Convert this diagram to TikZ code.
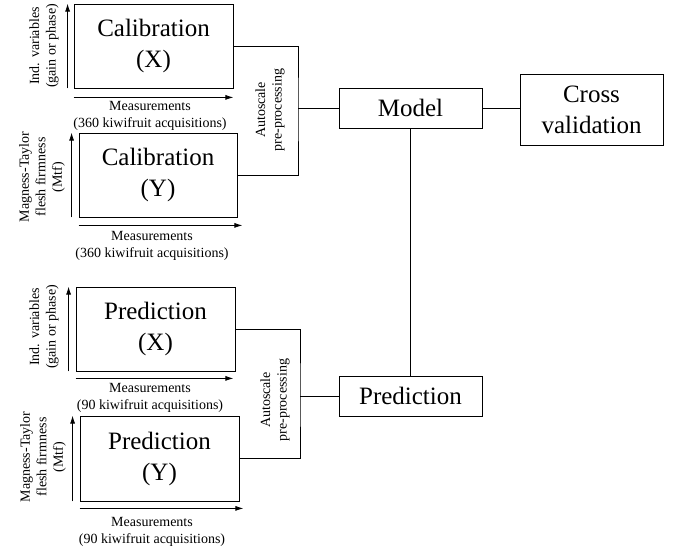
\documentclass[tikz,border=0pt]{standalone}
\usepackage{fontspec}
\setmainfont{Liberation Serif}
\usetikzlibrary{arrows.meta}
\begin{document}
\begin{tikzpicture}[x=1pt, y=-1pt,
        box/.style={draw, line width=0.8pt, align=center, inner sep=0pt, font=\fontsize{25}{31}\selectfont},
        lbl/.style={align=center, inner sep=0pt, font=\fontsize{14}{16.5}\selectfont},
        axis/.style={line width=0.8pt, -{Latex[length=8pt,width=5pt]}},
        link/.style={line width=0.8pt}]
        \useasboundingbox (0,0) rectangle (681,553);
        %\draw [help lines, step=20] (0,0) grid (681,553);

        % calibration
        \node [box, minimum width=159pt, minimum height=84pt] (calX) at (153.5,46) {Calibration\\(X)};
        \draw [axis] ([xshift=-6pt]calX.south west) -- ([xshift=-6pt]calX.north west);
        \draw [axis] ([yshift=-9pt]calX.south west) -- ([yshift=-9pt]calX.south east);
        \node [lbl, rotate=90] (calXvar) at (44,46) {Ind. variables\\(gain or phase)};
        \node [lbl] (calXmeas) at (150,116) {Measurements\\(360 kiwifruit acquisitions)};

        \node [box, minimum width=158pt, minimum height=84pt] (calY) at (158,175) {Calibration\\(Y)};
        \draw [axis] ([xshift=-7pt]calY.south west) -- ([xshift=-7pt]calY.north west);
        \draw [axis] ([yshift=-8pt]calY.south west) -- ([xshift=5pt,yshift=-8pt]calY.south east);
        \node [lbl, rotate=90] (calYvar) at (42,177) {Magness-Taylor\\flesh firmness\\(Mtf)};
        \node [lbl] (calYmeas) at (152,246) {Measurements\\(360 kiwifruit acquisitions)};

        % prediction
        \node [box, minimum width=159pt, minimum height=84pt] (preX) at (155.5,329) {Prediction\\(X)};
        \draw [axis] ([xshift=-7pt]preX.south west) -- ([xshift=-7pt]preX.north west);
        \draw [axis] ([yshift=-7pt]preX.south west) -- ([xshift=-2pt,yshift=-7pt]preX.south east);
        \node [lbl, rotate=90] (preXvar) at (44,327) {Ind. variables\\(gain or phase)};
        \node [lbl] (preXmeas) at (150,398) {Measurements\\(90 kiwifruit acquisitions)};

        \node [box, minimum width=159pt, minimum height=85pt] (preY) at (159.5,458.5) {Prediction\\(Y)};
        \draw [axis] ([xshift=-7pt]preY.south west) -- ([xshift=-7pt]preY.north west);
        \draw [axis] ([yshift=-7pt]preY.south west) -- ([xshift=4pt,yshift=-7pt]preY.south east);
        \node [lbl, rotate=90] (preYvar) at (43,457) {Magness-Taylor\\flesh firmness\\(Mtf)};
        \node [lbl] (preYmeas) at (152,532) {Measurements\\(90 kiwifruit acquisitions)};

        % model side
        \node [box, minimum width=143pt, minimum height=40pt] (model) at (410.5,108) {Model};
        \node [box, minimum width=143pt, minimum height=71pt] (cross) at (591.5,109.5) {Cross\\validation};
        \node [box, minimum width=143pt, minimum height=40pt] (pred) at (410.5,396) {Prediction};

        \node [lbl, rotate=90] (calAuto) at (270,110) {Autoscale\\pre-processing};
        \node [lbl, rotate=90] (preAuto) at (275,400) {Autoscale\\pre-processing};

        \coordinate (calJoin) at (298,108);
        \coordinate (preJoin) at (300,396);
        \draw [link] (calX.east) -| (calJoin) |- (calY.east);
        \draw [link] (calJoin) -- (model.west);
        \draw [link] (preX.east) -| (preJoin) |- (preY.east);
        \draw [link] (preJoin) -- (pred.west);
        \draw [link] (model.south) -- (pred.north);
        \draw [link] (model.east) -- (model.east -| cross.west);
    \end{tikzpicture}
\end{document}
